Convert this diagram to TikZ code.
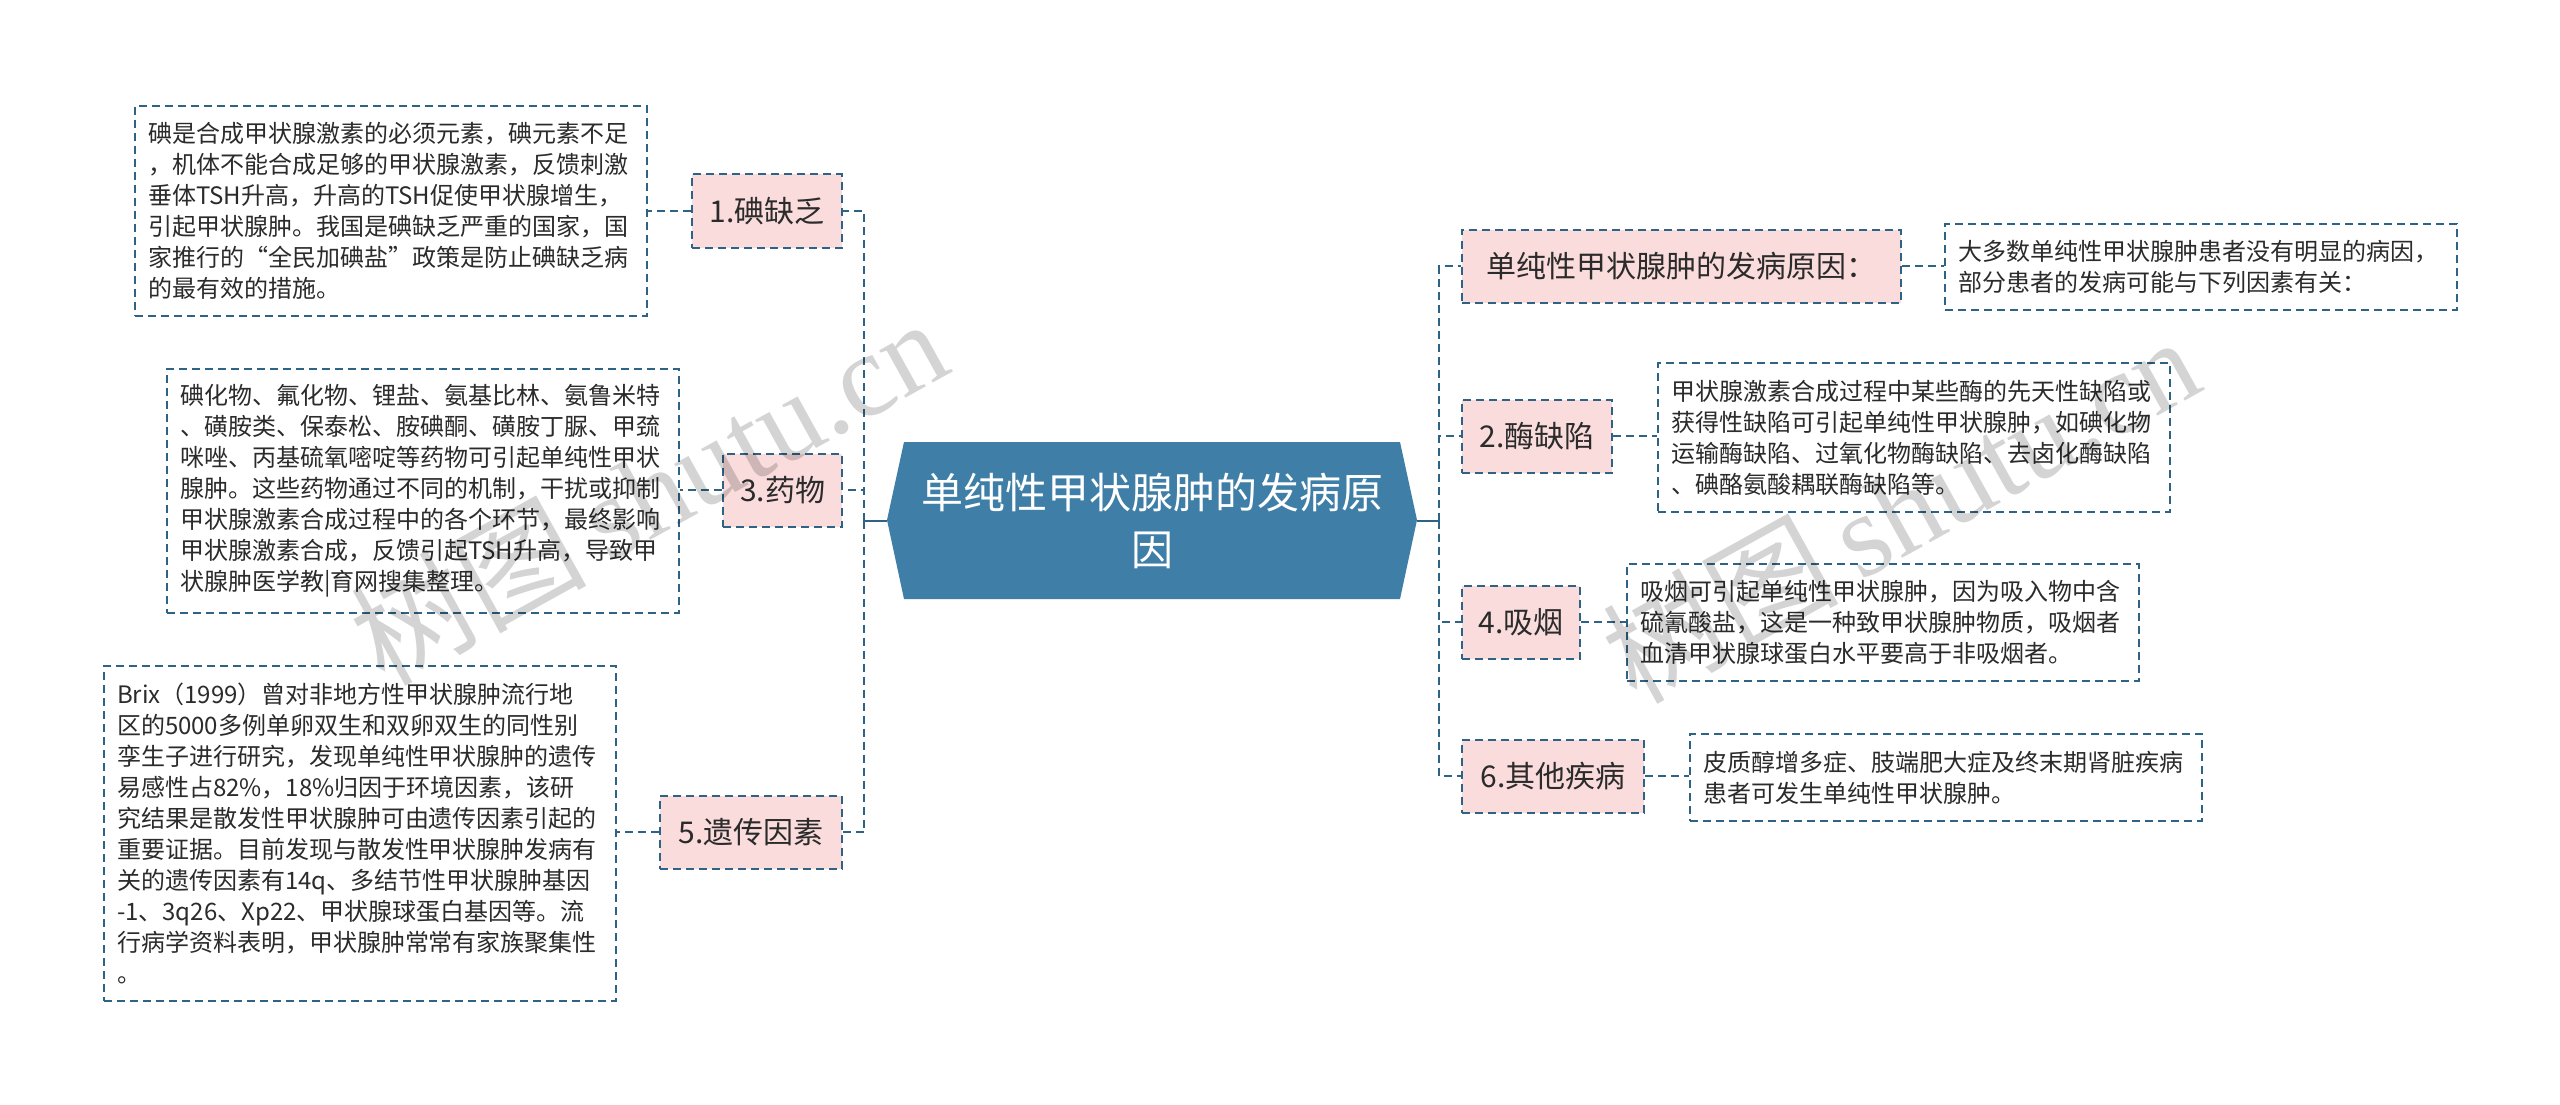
\documentclass[tikz,border=0pt]{standalone}
\usepackage{fontspec}
\setmainfont{Noto Sans CJK SC}
\newfontfamily\wmlatin{Liberation Serif}
\definecolor{lc}{HTML}{2E6385}
\definecolor{hexc}{HTML}{3F7FA7}
\definecolor{pk}{HTML}{FADCDC}
\definecolor{tc}{HTML}{2B2B2B}
\begin{document}
\begin{tikzpicture}[x=1pt,y=-1pt,
  conn/.style={draw=lc, line width=2pt, dash pattern=on 8pt off 5pt},
  solidconn/.style={draw=lc, line width=2pt},
  topic/.style={draw=lc, line width=2pt, dash pattern=on 8pt off 5pt, fill=pk,
    minimum height=73pt, inner sep=0pt, text=tc, font=\fontsize{30}{36}\selectfont},
  textbox/.style={draw=lc, line width=2pt, dash pattern=on 8pt off 5pt, fill=white,
    text width=486pt, inner xsep=13pt, inner ysep=0pt, align=left, anchor=north west,
    text=tc, font=\fontsize{24}{31}\selectfont},
  wm/.style={text=black, opacity=0.17, rotate=29, font=\fontsize{118}{118}\selectfont}
]
\useasboundingbox (0,0) rectangle (2560,1105);
\fill[white] (0,0) rectangle (2560,1105);

% central topic
\fill[hexc] (887,520) -- (904,442) -- (1400,442) -- (1417,520) -- (1400,599) -- (904,599) -- cycle;
\node[minimum width=530pt, minimum height=157pt, inner sep=0pt, align=center, text=white,
  font=\fontsize{42}{57}\selectfont] (c) at (1152,520.5) {单纯性甲状腺肿的发病原\\因};

\coordinate (jl) at (864,520.5);
\coordinate (jr) at (1439,520.5);

% left topics
\node[topic, minimum width=150pt, anchor=east] (n1) at (843,211) {1.碘缺乏};
\node[topic, minimum width=119pt, anchor=east] (n3) at (843,490) {3.药物};
\node[topic, minimum width=182pt, anchor=east] (n5) at (843,832) {5.遗传因素};

% right topics
\node[topic, minimum width=439pt, anchor=west] (r0) at (1461,266) {单纯性甲状腺肿的发病原因：};
\node[topic, minimum width=150pt, anchor=west] (n2) at (1461,436) {2.酶缺陷};
\node[topic, minimum width=118pt, anchor=west] (n4) at (1461,622) {4.吸烟};
\node[topic, minimum width=182pt, anchor=west] (n6) at (1461,776) {6.其他疾病};

% left text boxes
\node[textbox, minimum height=210pt] (b1) at (134,105) {碘是合成甲状腺激素的必须元素，碘元素不足\\，机体不能合成足够的甲状腺激素，反馈刺激\\垂体TSH升高，升高的TSH促使甲状腺增生，\\引起甲状腺肿。我国是碘缺乏严重的国家，国\\家推行的“全民加碘盐”政策是防止碘缺乏病\\的最有效的措施。};
\node[textbox, minimum height=244pt] (b3) at (166,368) {碘化物、氟化物、锂盐、氨基比林、氨鲁米特\\、磺胺类、保泰松、胺碘酮、磺胺丁脲、甲巯\\咪唑、丙基硫氧嘧啶等药物可引起单纯性甲状\\腺肿。这些药物通过不同的机制，干扰或抑制\\甲状腺激素合成过程中的各个环节，最终影响\\甲状腺激素合成，反馈引起TSH升高，导致甲\\状腺肿医学教|育网搜集整理。};
\node[textbox, minimum height=335pt] (b5) at (103,665) {Brix（1999）曾对非地方性甲状腺肿流行地\\区的5000多例单卵双生和双卵双生的同性别\\孪生子进行研究，发现单纯性甲状腺肿的遗传\\易感性占82\%，18\%归因于环境因素，该研\\究结果是散发性甲状腺肿可由遗传因素引起的\\重要证据。目前发现与散发性甲状腺肿发病有\\关的遗传因素有14q、多结节性甲状腺肿基因\\-1、3q26、Xp22、甲状腺球蛋白基因等。流\\行病学资料表明，甲状腺肿常常有家族聚集性\\。};

% right text boxes
\node[textbox, minimum height=86pt] (rb0) at (1944,223) {大多数单纯性甲状腺肿患者没有明显的病因，\\部分患者的发病可能与下列因素有关：};
\node[textbox, minimum height=149pt] (rb2) at (1657,362) {甲状腺激素合成过程中某些酶的先天性缺陷或\\获得性缺陷可引起单纯性甲状腺肿，如碘化物\\运输酶缺陷、过氧化物酶缺陷、去卤化酶缺陷\\、碘酪氨酸耦联酶缺陷等。};
\node[textbox, minimum height=117pt] (rb4) at (1626,563) {吸烟可引起单纯性甲状腺肿，因为吸入物中含\\硫氰酸盐，这是一种致甲状腺肿物质，吸烟者\\血清甲状腺球蛋白水平要高于非吸烟者。};
\node[textbox, minimum height=87pt] (rb6) at (1689,733) {皮质醇增多症、肢端肥大症及终末期肾脏疾病\\患者可发生单纯性甲状腺肿。};

% connectors center -> junctions
\draw[solidconn] (c.west) -- (jl);
\draw[solidconn] (c.east) -- (jr);
\draw[conn] (jl) |- (n1.east);
\draw[conn] (jl) |- (n3.east);
\draw[conn] (jl) |- (n5.east);
\draw[conn] (jr) |- (r0.west);
\draw[conn] (jr) |- (n2.west);
\draw[conn] (jr) |- (n4.west);
\draw[conn] (jr) |- (n6.west);

% topic -> text boxes
\draw[conn] (n1.west) -- (n1.west -| b1.east);
\draw[conn] (n3.west) -- (n3.west -| b3.east);
\draw[conn] (n5.west) -- (n5.west -| b5.east);
\draw[conn] (r0.east) -- (r0.east -| rb0.west);
\draw[conn] (n2.east) -- (n2.east -| rb2.west);
\draw[conn] (n4.east) -- (n4.east -| rb4.west);
\draw[conn] (n6.east) -- (n6.east -| rb6.west);

% watermarks
\node[wm] (wm1) at (648,490) {树图\,{\wmlatin shutu.cn}};
\node[wm] (wm2) at (1900,508) {树图\,{\wmlatin shutu.cn}};
\end{tikzpicture}
\end{document}
